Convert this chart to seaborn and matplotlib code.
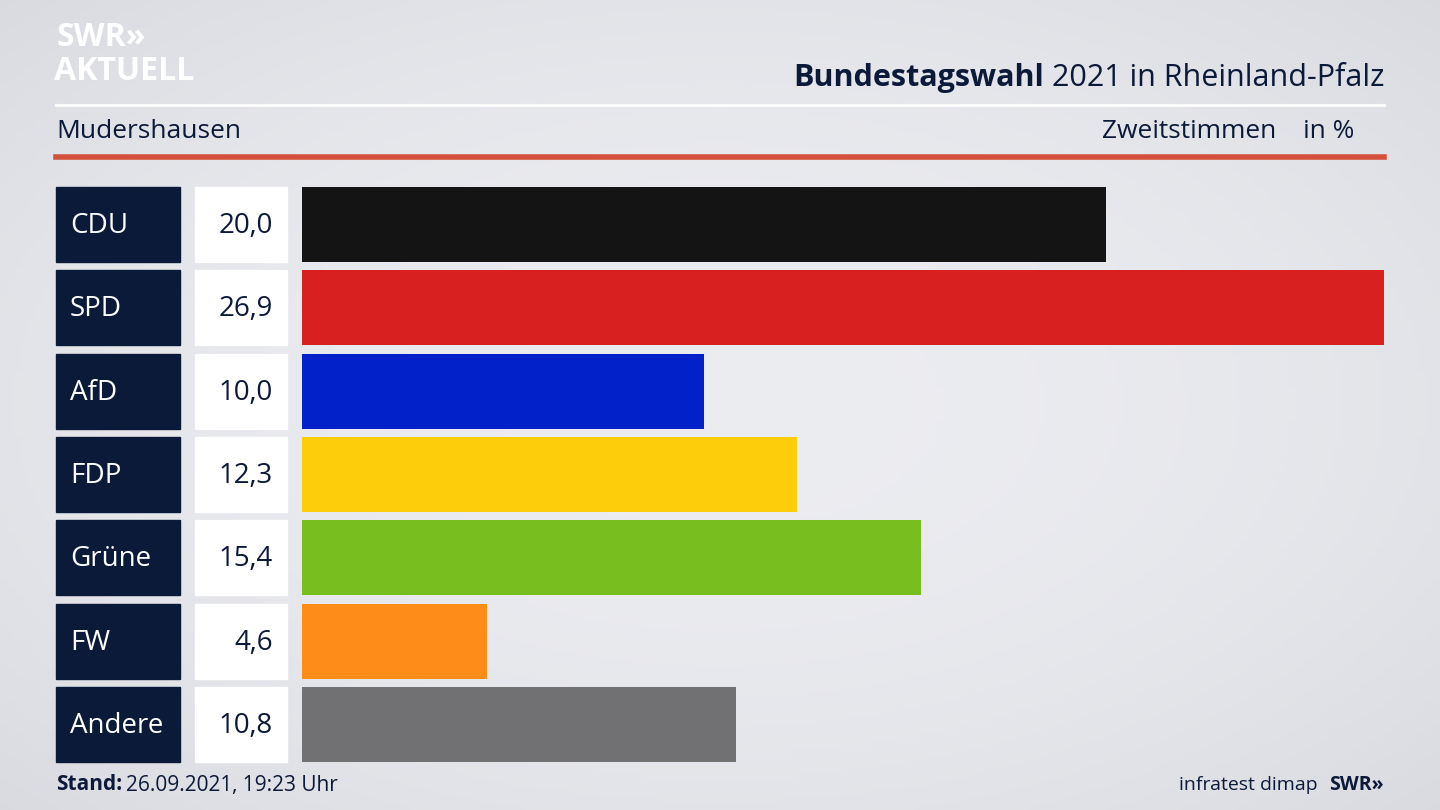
import matplotlib.pyplot as plt
import matplotlib.patches as mpatches
import seaborn as sb
import numpy as np
import pandas as pd

# data
parties = ['CDU', 'SPD', 'AfD', 'FDP', 'Grüne', 'FW', 'Andere']
values = [20.0, 26.9, 10.0, 12.3, 15.4, 4.6, 10.8]
colors = ['#141414', '#d82020', '#0321c8', '#fdcc0b', '#78be1e', '#fd8c19', '#717173']
labels = ['20,0', '26,9', '10,0', '12,3', '15,4', '4,6', '10,8']

W, H = 1440, 810
navy = '#0c1a3a'
plt.rcParams['font.family'] = 'Open Sans'
fig = plt.figure(figsize=(14.4, 8.1), dpi=100)

# background gradient (light grey, lighter in the middle)
bg = fig.add_axes([0, 0, 1, 1])
yy, xx = np.mgrid[0:1:200j, 0:1:200j]
d = np.clip(1.6 * ((xx - 0.5) ** 2 + (yy - 0.5) ** 2), 0, 1)
c0 = np.array([0.925, 0.928, 0.945])
c1 = np.array([0.835, 0.84, 0.86])
img = c0 * (1 - d[..., None]) + c1 * d[..., None]
bg.imshow(img, aspect='auto', extent=[0, W, H, 0])
bg.set_xlim(0, W)
bg.set_ylim(H, 0)
bg.axis('off')

# header
bg.text(56, 37, 'SWR»', fontsize=23, fontweight='bold', color='white', va='center')
bg.text(54, 72, 'AKTUELL', fontsize=23, fontweight='bold', color='white', va='center')
t = bg.text(1384, 78, '2021 in Rheinland-Pfalz', fontsize=22, color=navy, ha='right', va='center')
fig.canvas.draw()
bb = t.get_window_extent()
bg.text(1384 - bb.width - 8, 78, 'Bundestagswahl', fontsize=22, fontweight='bold', color=navy,
        ha='right', va='center')
bg.plot([56, 1384], [105, 105], color='white', lw=2)
bg.text(56, 132, 'Mudershausen', fontsize=19, color=navy, va='center')
bg.text(1276, 132, 'Zweitstimmen', fontsize=19, color=navy, va='center', ha='right')
bg.text(1354, 132, 'in %', fontsize=19, color=navy, va='center', ha='right')
bg.plot([56, 1384], [157, 157], color='#d5503b', lw=4)

# label boxes
pitch = 83.33
for i, (p, lab) in enumerate(zip(parties, labels)):
    y0 = 187 + i * pitch
    bg.add_patch(mpatches.Rectangle((56, y0), 124, 75, color=navy))
    bg.add_patch(mpatches.Rectangle((195, y0), 92, 75, color='white'))
    bg.text(70, y0 + 39, p, fontsize=20, color='white', va='center')
    bg.text(273, y0 + 39, lab, fontsize=20, color=navy, va='center', ha='right')

# footer
bg.text(56, 785, 'Stand:', fontsize=15, fontweight='bold', color=navy, va='center')
bg.text(126, 785, '26.09.2021, 19:23 Uhr', fontsize=15, color=navy, va='center')
bg.text(1318, 785, 'infratest dimap', fontsize=14, color=navy, va='center', ha='right')
bg.text(1384, 785, 'SWR»', fontsize=14, fontweight='bold', color=navy, va='center', ha='right')

# bars
ax = fig.add_axes([302 / W, 1 - 762 / H, 1082 / W, 575 / H])
df = pd.DataFrame({'party': parties, 'value': values})
sb.barplot(data=df, x='value', y='party', hue='party', palette=colors, legend=False,
           width=0.9, saturation=1, ax=ax, orient='h')
ax.set_xlim(0, 26.9)
ax.set_ylim(6.45, -0.45)
ax.axis('off')

fig.savefig('out.png', dpi=100)
